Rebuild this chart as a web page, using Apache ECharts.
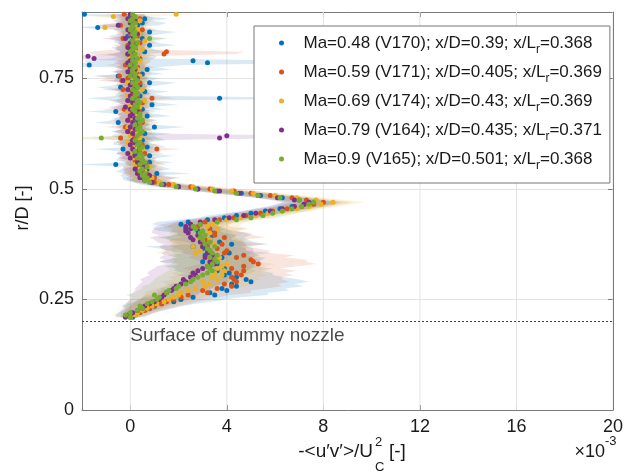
<!DOCTYPE html>
<html>
<head>
<meta charset="utf-8">
<script src="https://cdn.jsdelivr.net/npm/echarts@6/dist/echarts.min.js"></script>
<style>
  html, body { margin: 0; padding: 0; background: #fff; }
  #chart { width: 626px; height: 476px; }
</style>
</head>
<body>
<div id="chart"></div>
<script>
// Radial positions r/D shared by every profile
const rD = [
  0.21,0.215,0.22,0.225,0.23,0.235,0.24,0.245,0.25,0.255,
  0.26,0.265,0.27,0.275,0.28,0.285,0.29,0.295,0.3,0.305,
  0.31,0.315,0.32,0.325,0.33,0.335,0.34,0.345,0.35,0.355,
  0.36,0.365,0.37,0.375,0.38,0.385,0.39,0.395,
  0.4,0.405,0.41,0.415,
  0.42,0.425,0.43,0.435,0.44,0.445,0.45,0.455,0.46,0.465,
  0.47,0.475,0.48,0.485,0.49,0.495,0.5,0.505,0.51,0.515,
  0.52,0.525,0.53,0.535,0.54,0.545,0.55,0.555,0.56,0.565,
  0.57,0.575,0.58,0.585,0.59,0.595,0.6,0.605,0.61,0.615,
  0.62,0.625,0.63,0.635,0.64,0.645,0.65,0.655,0.66,0.665,
  0.67,0.675,0.68,0.685,0.69,0.695,0.7,0.705,0.71,0.715,
  0.72,0.725,0.73,0.735,0.74,0.745,0.75,0.755,0.76,0.765,
  0.77,0.775,0.78,0.785,0.79,0.795,0.8,0.805,0.81,0.815,
  0.82,0.825,0.83,0.835,0.84,0.845,0.85,0.855,0.86,0.865,
  0.87,0.875,0.88,0.885,0.89,0.895
];

// Reynolds shear stress -<u'v'>/Uc^2 in units of 1e-3, one array per run
const stressV170 = [
  0.1,0.2,0.3,0.5,0.8,1.0,1.3,1.8,2.1,2.6,
  3.5,3.3,4.0,3.8,4.4,4.2,5.0,4.8,4.4,3.9,
  4.1,3.6,3.9,3.3,3.6,3.0,3.5,3.8,3.1,4.1,
  3.2,3.0,2.6,4.2,3.7,3.3,2.9,3.4,
  3.4,2.8,2.3,2.6,
  2.1,2.4,3.2,3.9,4.4,5.0,5.6,6.2,6.7,7.2,
  7.6,7.0,6.3,5.4,4.6,3.6,2.8,2.0,1.3,0.9,
  0.6,0.9,0.4,1.1,0.3,0.7,0.5,-0.6,0.8,0.2,
  0.3,0.8,0.1,0.4,-0.3,0.7,0.2,0.0,0.5,0.3,
  0.1,0.6,-0.1,0.4,1.0,0.2,-0.5,0.3,0.0,0.7,
  0.2,-0.6,0.5,0.1,0.9,0.3,0.0,3.7,0.4,0.2,
  0.6,0.0,-0.4,0.4,0.8,0.1,0.3,-0.5,0.5,0.0,
  0.7,0.2,-1.7,3.2,2.6,0.1,0.3,-0.1,0.6,0.2,
  0.0,0.8,0.3,0.1,0.5,-0.1,0.4,0.8,0.2,-1.35,
  0.3,0.5,0.1,0.6,0.0,-1.9
];
const stressV171 = [
  0.0,0.2,0.4,0.6,0.8,1.0,1.3,1.5,1.8,2.1,
  2.4,3.2,3.0,3.6,4.2,3.9,4.4,4.3,4.2,4.6,
  4.4,4.7,4.2,4.7,5.3,5.1,5.0,4.4,4.7,3.9,
  4.0,3.6,3.2,3.8,3.3,3.1,3.9,3.5,
  3.5,3.0,3.3,2.8,
  2.9,3.1,3.7,4.3,4.8,5.4,5.9,6.5,7.1,7.6,
  8.0,7.3,6.7,5.8,5.0,4.3,3.3,2.5,1.6,1.0,
  0.8,1.0,0.5,0.7,0.4,0.6,0.3,0.7,0.5,0.2,
  0.4,0.2,0.6,0.3,1.1,0.1,0.5,0.0,0.3,-0.4,
  0.1,0.4,0.0,0.3,-0.2,0.2,0.5,-0.1,0.1,0.3,
  0.0,0.4,-0.25,0.2,0.1,0.5,-0.1,0.9,0.3,0.1,
  0.2,-0.3,0.3,0.0,0.4,-0.35,-0.1,-0.45,0.3,0.1,
  0.0,0.3,-0.2,0.2,0.1,0.4,0.0,1.4,1.5,0.0,
  0.2,-0.1,0.4,0.1,-0.3,0.3,0.0,0.2,0.5,0.1,
  -0.4,0.2,0.0,0.4,0.1,-0.25
];
const stressV174 = [
  0.0,0.2,0.3,0.5,0.7,0.9,1.1,1.4,1.6,1.8,
  2.0,2.1,2.4,2.7,3.1,3.3,3.0,3.6,3.4,3.8,
  3.5,3.9,3.6,3.8,4.0,3.5,3.3,3.7,3.5,2.7,
  2.9,3.2,2.6,3.5,3.0,3.3,2.8,3.1,
  3.3,3.0,3.6,3.2,
  3.4,3.6,4.0,4.6,5.2,5.7,6.3,6.9,7.4,7.9,
  8.4,7.7,6.9,6.0,5.1,4.2,3.4,2.6,1.8,1.2,
  0.7,0.9,0.5,0.3,0.6,0.4,0.8,0.2,0.5,0.4,
  0.1,0.4,0.0,0.2,0.5,0.1,0.3,-0.1,0.2,0.4,
  0.0,0.3,0.1,0.4,-0.1,0.2,0.1,0.5,0.0,0.2,
  0.3,-0.1,0.1,0.4,0.0,0.2,0.6,0.1,-0.1,0.3,
  0.1,0.5,0.0,0.2,-0.1,0.3,0.1,0.4,0.0,0.2,
  0.3,0.0,0.2,0.1,0.4,0.0,0.3,0.1,0.2,0.5,
  0.1,0.3,0.0,0.6,0.2,0.1,0.4,0.0,0.3,-1.05,
  0.2,0.1,0.4,0.0,-0.7,1.9
];
const stressV164 = [
  -0.2,-0.1,0.1,0.3,0.5,0.6,0.8,1.0,1.2,1.3,
  1.4,1.5,1.7,1.8,1.9,2.1,2.3,2.2,2.5,2.7,
  2.6,2.8,3.0,3.2,3.5,3.3,3.4,3.1,3.4,3.2,
  3.3,3.2,3.0,3.1,2.9,2.6,2.5,2.8,
  2.4,2.3,2.5,2.3,
  2.5,2.9,3.5,4.1,4.7,5.2,5.8,6.3,6.8,7.2,
  7.4,6.8,6.1,5.3,4.5,3.7,2.8,2.0,1.4,0.9,
  0.6,0.4,0.8,0.3,0.5,0.2,0.6,0.4,0.3,0.5,
  0.0,0.2,-0.1,0.3,0.1,0.4,0.0,0.2,0.1,3.7,
  4.0,0.1,-0.1,0.2,0.0,0.3,0.1,-0.1,0.2,0.0,
  0.1,0.3,0.0,-0.2,0.2,0.1,-0.1,0.2,0.0,0.3,
  0.1,-0.1,0.2,0.0,0.1,-0.3,0.3,0.0,0.1,-0.1,
  0.2,0.0,0.1,-0.1,0.0,-1.5,-1.75,-0.1,0.1,0.0,
  -0.1,0.2,0.0,0.1,-0.2,0.1,0.3,0.0,-0.1,0.1,
  -0.5,0.0,0.2,-0.1,0.1,0.0
];
const stressV165 = [
  0.0,-0.2,0.0,0.3,0.5,0.4,0.7,0.9,1.1,1.2,
  1.0,1.5,1.6,1.9,2.0,2.3,2.5,2.6,2.8,3.0,
  3.2,3.4,3.3,3.2,3.4,3.6,3.5,3.3,3.6,3.4,
  3.3,3.2,3.5,3.1,3.3,3.0,2.9,3.1,
  2.9,3.0,2.7,2.6,
  2.9,3.6,4.4,5.0,5.5,5.9,6.3,6.7,7.1,7.4,
  7.6,7.0,6.2,5.3,4.4,3.5,2.7,1.9,1.3,0.8,
  0.6,0.7,0.5,0.6,0.4,0.5,0.7,0.4,0.6,0.5,
  0.3,0.5,0.4,0.2,0.4,0.5,0.3,0.4,0.2,-1.2,
  0.3,0.4,0.5,0.3,0.4,0.2,0.4,0.5,0.3,0.4,
  0.4,0.2,0.1,0.3,0.2,0.4,0.3,0.1,0.2,0.3,
  0.2,0.1,0.3,0.2,0.1,0.3,0.2,0.0,0.2,0.1,
  0.1,0.2,0.0,0.2,0.1,0.3,0.1,0.2,0.0,0.1,
  0.2,0.1,0.3,0.1,0.8,0.2,0.1,0.2,0.0,0.1,
  0.1,0.2,0.0,0.1,0.2,0.1
];

// Half-width of the uncertainty band around each value (same units)
const spreadV170 = [
  0.5,0.6,0.7,0.8,1.0,1.2,1.4,1.6,1.8,2.0,
  2.2,2.4,2.6,2.6,2.8,2.6,2.4,2.2,2.0,2.0,
  1.8,1.8,2.0,1.8,1.6,1.8,2.0,1.8,1.6,1.8,
  1.6,1.8,2.0,1.6,1.4,1.6,1.8,1.6,
  1.4,1.6,1.4,1.2,
  1.2,1.3,1.2,1.1,1.2,1.1,1.0,1.1,1.0,1.2,
  1.2,1.0,1.1,1.0,1.1,1.0,0.9,1.0,0.9,0.8,
  0.9,1.2,0.8,1.4,0.9,1.0,0.8,1.6,1.0,0.8,
  0.8,1.0,0.7,0.9,1.2,0.8,0.9,0.7,1.0,0.8,
  0.9,1.1,0.7,0.8,1.3,0.8,1.0,0.9,0.7,1.0,
  0.8,1.2,0.9,0.8,1.1,0.9,0.8,5.5,1.0,0.8,
  1.0,0.8,1.0,0.9,1.1,0.8,0.9,1.1,0.9,0.8,
  1.0,0.9,4.0,5.0,4.5,0.9,0.8,0.9,1.0,0.8,
  0.8,1.1,0.9,0.8,1.0,0.8,0.9,1.1,0.8,1.2,
  0.9,1.0,0.8,1.0,0.9,1.5
];
const spreadV171 = [
  0.4,0.5,0.6,0.8,0.9,1.0,1.2,1.3,1.4,1.6,
  1.7,1.8,2.0,2.0,2.1,2.2,2.2,2.0,2.1,2.2,
  2.0,2.2,2.0,2.2,2.4,2.2,2.3,2.0,2.1,1.8,
  1.8,1.7,1.6,1.8,1.6,1.5,1.7,1.6,
  1.5,1.4,1.5,1.3,
  1.2,1.2,1.1,1.2,1.1,1.0,1.1,1.0,1.1,1.2,
  1.2,1.1,1.0,1.1,1.0,0.9,1.0,0.9,0.8,0.8,
  0.8,0.9,0.7,0.8,0.7,0.8,0.6,0.8,0.7,0.6,
  0.7,0.6,0.8,0.7,1.0,0.6,0.7,0.6,0.7,1.2,
  0.6,0.7,0.6,0.7,0.8,0.6,0.7,0.8,0.6,0.7,
  0.6,0.7,0.9,0.6,0.7,0.6,0.8,1.0,0.7,0.6,
  0.7,0.9,0.6,0.7,0.6,1.0,0.8,1.0,0.6,0.7,
  0.6,0.7,0.8,0.6,0.7,0.6,0.7,3.0,3.2,0.6,
  0.7,0.6,0.7,0.6,0.9,0.7,0.6,0.7,0.6,0.7,
  1.0,0.6,0.7,0.6,0.7,0.8
];
const spreadV174 = [
  0.4,0.5,0.6,0.7,0.8,0.9,1.0,1.1,1.2,1.3,
  1.4,1.5,1.6,1.6,1.7,1.8,1.7,1.8,1.8,1.9,
  1.8,1.9,1.8,1.9,2.0,1.8,1.7,1.8,1.7,1.6,
  1.6,1.7,1.5,1.6,1.5,1.6,1.5,1.4,
  1.4,1.3,1.4,1.3,
  1.2,1.2,1.1,1.2,1.1,1.1,1.2,1.1,1.2,1.3,
  1.3,1.2,1.1,1.1,1.0,1.0,0.9,0.9,0.8,0.8,
  0.7,0.8,0.6,0.6,0.7,0.6,0.7,0.6,0.6,0.5,
  0.6,0.5,0.6,0.5,0.6,0.5,0.6,0.5,0.6,0.5,
  0.5,0.6,0.5,0.6,0.5,0.6,0.5,0.6,0.5,0.6,
  0.5,0.6,0.5,0.6,0.5,0.6,0.7,0.5,0.6,0.5,
  0.6,0.5,0.6,0.5,0.6,0.5,0.6,0.5,0.6,0.5,
  0.5,0.6,0.5,0.6,0.5,0.6,0.5,0.6,0.5,0.6,
  0.5,0.6,0.5,0.7,0.5,0.6,0.5,0.6,0.5,1.0,
  0.6,0.5,0.6,0.5,1.0,1.2
];
const spreadV164 = [
  0.4,0.5,0.6,0.7,0.8,0.9,1.0,1.1,1.2,1.3,
  1.4,1.4,1.5,1.6,1.6,1.7,1.8,1.8,1.9,1.9,
  1.9,2.0,2.0,2.1,2.0,2.1,2.0,1.9,2.0,1.9,
  1.8,1.9,1.8,1.7,1.8,1.6,1.7,1.6,
  1.5,1.4,1.5,1.3,
  1.2,1.1,1.2,1.1,1.0,1.1,1.0,1.1,1.0,1.1,
  1.1,1.0,1.0,0.9,1.0,0.9,0.8,0.8,0.7,0.7,
  0.7,0.6,0.7,0.6,0.7,0.6,0.5,0.6,0.5,0.6,
  0.5,0.6,0.5,0.6,0.5,0.6,0.5,0.6,0.5,3.5,
  3.8,0.5,0.6,0.5,0.6,0.5,0.6,0.5,0.6,0.5,
  0.6,0.5,0.6,0.7,0.5,0.6,0.5,0.6,0.5,0.6,
  0.5,0.6,0.5,0.6,0.5,0.7,0.5,0.6,0.5,0.6,
  0.5,0.6,0.5,0.6,0.5,2.0,2.2,0.6,0.5,0.6,
  0.5,0.6,0.5,0.6,0.7,0.5,0.6,0.5,0.6,0.5,
  0.9,0.6,0.5,0.6,0.5,0.6
];
const spreadV165 = [
  0.4,0.5,0.5,0.6,0.7,0.8,0.9,1.0,1.1,1.1,
  1.2,1.3,1.3,1.4,1.5,1.5,1.6,1.6,1.7,1.7,
  1.8,1.8,1.7,1.8,1.7,1.8,1.7,1.6,1.7,1.6,
  1.6,1.5,1.6,1.5,1.4,1.5,1.4,1.3,
  1.3,1.2,1.3,1.2,
  1.1,1.1,1.0,1.1,1.0,1.0,1.1,1.0,1.0,1.1,
  1.0,1.0,0.9,0.9,0.8,0.8,0.7,0.7,0.6,0.6,
  0.6,0.5,0.5,0.5,0.4,0.5,0.4,0.5,0.4,0.5,
  0.4,0.5,0.4,0.5,0.4,0.5,0.4,0.5,0.4,2.6,
  0.4,0.5,0.4,0.5,0.4,0.5,0.4,0.5,0.4,0.5,
  0.4,0.5,0.4,0.5,0.4,0.5,0.4,0.5,0.4,0.5,
  0.4,0.5,0.4,0.5,0.4,0.5,0.4,0.5,0.4,0.5,
  0.4,0.5,0.4,0.5,0.4,0.5,0.4,0.5,0.4,0.5,
  0.4,0.5,0.4,0.5,0.8,0.5,0.4,0.5,0.4,0.5,
  0.4,0.5,0.4,0.5,0.4,0.5
];

// Run descriptors for the legend
const machNumbers = ['0.48', '0.59', '0.69', '0.79', '0.9'];
const runIds = ['V170', 'V171', 'V174', 'V164', 'V165'];
const xOverD = ['0.39', '0.405', '0.43', '0.435', '0.501'];
const xOverLr = ['0.368', '0.369', '0.369', '0.371', '0.368'];

// Axis ticks
const xTicks = [0, 4, 8, 12, 16, 20];
const nozzleSurface = 0.2;

const profiles = [stressV170, stressV171, stressV174, stressV164, stressV165];
const spreads = [spreadV170, spreadV171, spreadV174, spreadV164, spreadV165];
const colors = ['#0072BD', '#D95319', '#EDB120', '#7E2F8E', '#77AC30'];
const FONT = '"Liberation Sans", Arial, Helvetica, sans-serif';
const AXIS = '#7a7a7a';
const GRIDC = '#e3e3e3';
const TXT = '#1a1a1a';

const names = runIds.map((id, k) =>
  'Ma=' + machNumbers[k] + ' (' + id + '); x/D=' + xOverD[k] + '; x/Lr=' + xOverLr[k]);

function bandRenderer(vals, spread, color) {
  return function (params, api) {
    const pts = [];
    for (let i = 0; i < rD.length; i++) pts.push(api.coord([vals[i] - spread[i], rD[i]]));
    for (let i = rD.length - 1; i >= 0; i--) pts.push(api.coord([vals[i] + spread[i], rD[i]]));
    return {
      type: 'polygon',
      shape: { points: pts },
      style: { fill: color, opacity: 0.15 }
    };
  };
}

const series = [];

// vertical grid lines at the labelled x ticks
series.push({
  type: 'custom', name: 'xgrid', silent: true, z: 1, clip: true,
  data: [[0, 0]],
  renderItem: function (params, api) {
    return {
      type: 'group',
      children: xTicks.map(function (v) {
        const a = api.coord([v, 0]);
        const b = api.coord([v, 0.9]);
        return { type: 'line', shape: { x1: a[0], y1: a[1], x2: b[0], y2: b[1] },
                 style: { stroke: GRIDC, lineWidth: 1 } };
      })
    };
  }
});

// uncertainty bands
profiles.forEach(function (vals, k) {
  series.push({
    type: 'custom', name: 'band ' + runIds[k], silent: true, z: 2, clip: true,
    data: [[0, 0.5]],
    renderItem: bandRenderer(vals, spreads[k], colors[k])
  });
});

// measured points
profiles.forEach(function (vals, k) {
  series.push({
    type: 'scatter', name: names[k], z: 3,
    symbol: 'circle', symbolSize: 5,
    itemStyle: { color: colors[k], opacity: 1 },
    emphasis: { disabled: true },
    data: rD.map(function (r, i) { return [vals[i], r]; })
  });
});

// nozzle surface line and its caption
series.push({
  type: 'scatter', name: 'nozzle', z: 4, silent: true,
  symbolSize: 1, itemStyle: { color: 'rgba(0,0,0,0)' },
  data: [[0, nozzleSurface]],
  label: {
    show: true, formatter: 'Surface of dummy nozzle', position: 'inside',
    align: 'left', verticalAlign: 'middle', offset: [0, 14],
    fontFamily: FONT, fontSize: 19, color: TXT
  },
  markLine: {
    silent: true, symbol: 'none', animation: false,
    label: { show: false },
    lineStyle: { type: [2, 2], color: '#444', width: 1 },
    data: [{ yAxis: nozzleSurface }]
  }
});

const chart = echarts.init(document.getElementById('chart'), null, { renderer: 'canvas' });
chart.setOption({
  animation: false,
  backgroundColor: '#fff',
  grid: { left: 82, right: 6, top: 12, bottom: 66, containLabel: false },
  xAxis: [{
    type: 'value', min: -2, max: 20, position: 'bottom',
    axisLine: { show: true, onZero: false, lineStyle: { color: AXIS, width: 1 } },
    axisTick: { show: true, inside: true, length: 5, customValues: xTicks, lineStyle: { color: AXIS } },
    axisLabel: { customValues: xTicks, margin: 8, fontFamily: FONT, fontSize: 18, color: TXT,
                 alignMaxLabel: 'center', hideOverlap: false },
    splitLine: { show: false }
  }, {
    type: 'value', min: -2, max: 20, position: 'top',
    axisLine: { show: true, onZero: false, lineStyle: { color: AXIS, width: 1 } },
    axisTick: { show: true, inside: true, length: 5, customValues: xTicks, lineStyle: { color: AXIS } },
    axisLabel: { show: false },
    splitLine: { show: false }
  }],
  yAxis: [{
    type: 'value', min: 0, max: 0.9, interval: 0.25, position: 'left',
    axisLine: { show: true, onZero: false, lineStyle: { color: AXIS, width: 1 } },
    axisTick: { show: true, inside: true, length: 5, lineStyle: { color: AXIS } },
    axisLabel: { margin: 8, fontFamily: FONT, fontSize: 18, color: TXT, showMaxLabel: false },
    splitLine: { show: true, lineStyle: { color: GRIDC, width: 1 } }
  }, {
    type: 'value', min: 0, max: 0.9, interval: 0.25, position: 'right',
    axisLine: { show: true, onZero: false, lineStyle: { color: AXIS, width: 1 } },
    axisTick: { show: true, inside: true, length: 5, lineStyle: { color: AXIS } },
    axisLabel: { show: false },
    splitLine: { show: false }
  }],
  legend: {
    data: names, orient: 'vertical', left: 254, top: 26,
    padding: [4, 8, 11, 25], itemGap: 3, itemWidth: 34, itemHeight: 5,
    icon: 'circle', selectedMode: false,
    backgroundColor: '#fff', borderColor: '#777', borderWidth: 1, borderRadius: 0,
    formatter: function (name) {
      const k = names.indexOf(name);
      return '{t|Ma=' + machNumbers[k] + ' (' + runIds[k] + '); x/D=' + xOverD[k] +
             '; x/L}{s|r}{t|=' + xOverLr[k] + '}';
    },
    textStyle: {
      fontFamily: FONT, fontSize: 17, color: TXT,
      rich: {
        t: { fontFamily: FONT, fontSize: 17, lineHeight: 20, color: TXT },
        s: { fontFamily: FONT, fontSize: 12, lineHeight: 12, padding: [14, 0, 0, 0], color: TXT }
      }
    }
  },
  graphic: [
    { type: 'text', x: 23, y: 208, rotation: Math.PI / 2, silent: true,
      style: { text: 'r/D [-]', fontFamily: FONT, fontSize: 18, fill: TXT,
               align: 'center', verticalAlign: 'middle', textAlign: 'center', textVerticalAlign: 'middle' } },
    { type: 'text', x: 373, y: 452, silent: true,
      style: { text: '-<u\u2032v\u2032>/U', fontFamily: FONT, fontSize: 19, fill: TXT,
               align: 'right', verticalAlign: 'middle', textAlign: 'right', textVerticalAlign: 'middle' } },
    { type: 'text', x: 375, y: 442, silent: true,
      style: { text: '2', fontFamily: FONT, fontSize: 13, fill: TXT,
               align: 'left', verticalAlign: 'middle', textAlign: 'left', textVerticalAlign: 'middle' } },
    { type: 'text', x: 375, y: 467, silent: true,
      style: { text: 'C', fontFamily: FONT, fontSize: 13, fill: TXT,
               align: 'left', verticalAlign: 'middle', textAlign: 'left', textVerticalAlign: 'middle' } },
    { type: 'text', x: 389, y: 452, silent: true,
      style: { text: '[-]', fontFamily: FONT, fontSize: 19, fill: TXT,
               align: 'left', verticalAlign: 'middle', textAlign: 'left', textVerticalAlign: 'middle' } },
    { type: 'text', x: 605, y: 452, silent: true,
      style: { text: '\u00d710', fontFamily: FONT, fontSize: 18, fill: TXT,
               align: 'right', verticalAlign: 'middle', textAlign: 'right', textVerticalAlign: 'middle' } },
    { type: 'text', x: 605, y: 441, silent: true,
      style: { text: '-3', fontFamily: FONT, fontSize: 13, fill: TXT,
               align: 'left', verticalAlign: 'middle', textAlign: 'left', textVerticalAlign: 'middle' } }
  ],
  series: series
});
</script>
</body>
</html>
